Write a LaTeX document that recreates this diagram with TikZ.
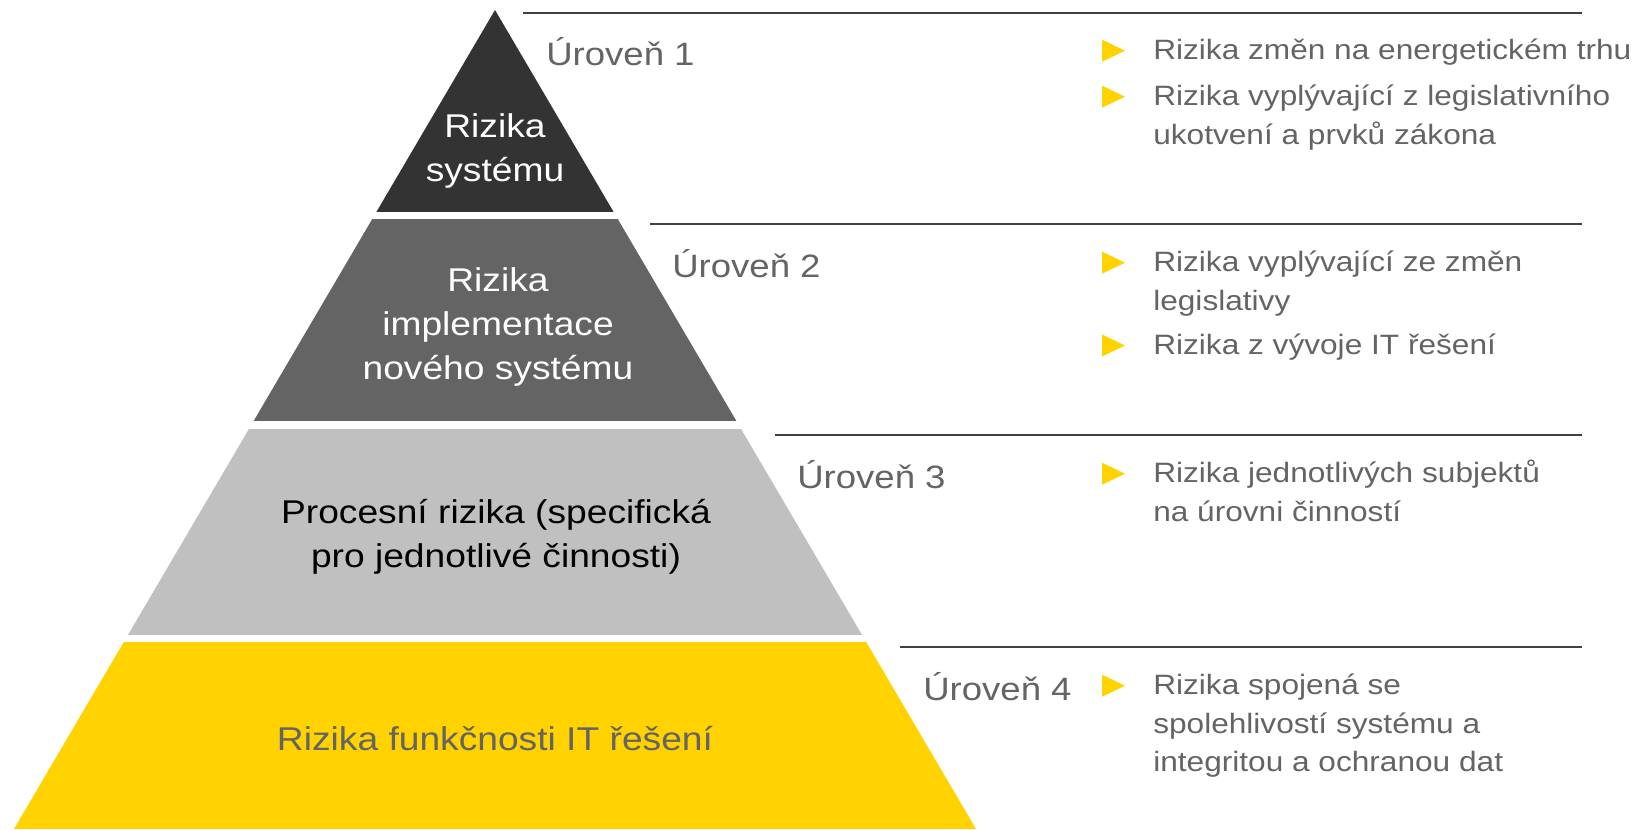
\documentclass[tikz,border=0pt]{standalone}
\usepackage{fontspec}
\setmainfont{Liberation Sans}[FakeStretch=1.13]
\usetikzlibrary{calc}

\definecolor{tierone}{HTML}{333333}
\definecolor{tiertwo}{HTML}{646464}
\definecolor{tierthree}{HTML}{C0C0C0}
\definecolor{tierfour}{HTML}{FFD200}
\definecolor{textgray}{HTML}{646464}
\definecolor{rulegray}{HTML}{404040}

\begin{document}
\begin{tikzpicture}[x=0.025cm, y=-0.025cm,
    tiertext/.style={align=center, inner sep=0pt, font=\fontsize{23.4pt}{31.2pt}\selectfont},
    levellabel/.style={anchor=base west, inner sep=0pt, text=textgray, font=\fontsize{23pt}{31.2pt}\selectfont},
    itemtext/.style={anchor=base west, align=left, inner sep=0pt, text=textgray, font=\fontsize{19.9pt}{27.14pt}\selectfont},
    levelrule/.style={rulegray, line width=0.045cm}]
        \def\ruleend{1582}
        \def\lineskippx{38.3}
        % yellow marker in front of the first line of an item (#2 = number of lines)
        \def\ybul#1#2{\fill[tierfour] ($(#1.base west)+(-51,{-20-\lineskippx*(#2-1)})$) -- ++(23,11) -- ++(-23,11) -- cycle;}

        \useasboundingbox (0,0) rectangle (1641,829);

        % pyramid, cut into four tiers
        \begin{scope}
            \clip (495,10) -- (976,829) -- (14,829) -- cycle;
            \fill[tierone] (0,0) rectangle (1641,212);
            \fill[tiertwo] (0,219) rectangle (1641,421);
            \fill[tierthree] (0,429) rectangle (1641,635);
            \fill[tierfour] (0,642) rectangle (1641,829);
        \end{scope}

        \node[tiertext, text=white] (t1) at (495,151) {Rizika\\systému};
        \node[tiertext, text=white] (t2) at (498,327) {Rizika\\implementace\\nového systému};
        \node[tiertext, text=black] (t3) at (496,537) {Procesní rizika (specifická\\pro jednotlivé činnosti)};
        \node[tiertext, text=textgray, anchor=base] (t4) at (495,750.6) {Rizika funkčnosti IT řešení};

        % rules between the levels
        \coordinate (r1) at (523,13);
        \coordinate (r2) at (650,224);
        \coordinate (r3) at (775,435);
        \coordinate (r4) at (900,647);
        \draw[levelrule] (r1) -- (r1 -| \ruleend,0);
        \draw[levelrule] (r2) -- (r2 -| \ruleend,0);
        \draw[levelrule] (r3) -- (r3 -| \ruleend,0);
        \draw[levelrule] (r4) -- (r4 -| \ruleend,0);

        \node[levellabel] (u1) at (546,65) {Úroveň 1};
        \node[levellabel] (u2) at (672,277) {Úroveň 2};
        \node[levellabel] (u3) at (797,488.5) {Úroveň 3};
        \node[levellabel] (u4) at (923,700) {Úroveň 4};

        % bullet items (placed at the baseline of their last line)
        \node[itemtext] (b11) at (1153,59.7) {Rizika změn na energetickém trhu};
        \node[itemtext] (b12) at (1153,144) {Rizika vyplývající z legislativního\\ukotvení a prvků zákona};
        \node[itemtext] (b21) at (1153,310) {Rizika vyplývající ze změn\\legislativy};
        \node[itemtext] (b22) at (1153,354.5) {Rizika z vývoje IT řešení};
        \node[itemtext] (b31) at (1153,521) {Rizika jednotlivých subjektů\\na úrovni činností};
        \node[itemtext] (b41) at (1153,771.3) {Rizika spojená se\\spolehlivostí systému a\\integritou a ochranou dat};

        \ybul{b11}{1} \ybul{b12}{2} \ybul{b21}{2} \ybul{b22}{1} \ybul{b31}{2} \ybul{b41}{3}
    \end{tikzpicture}
\end{document}
